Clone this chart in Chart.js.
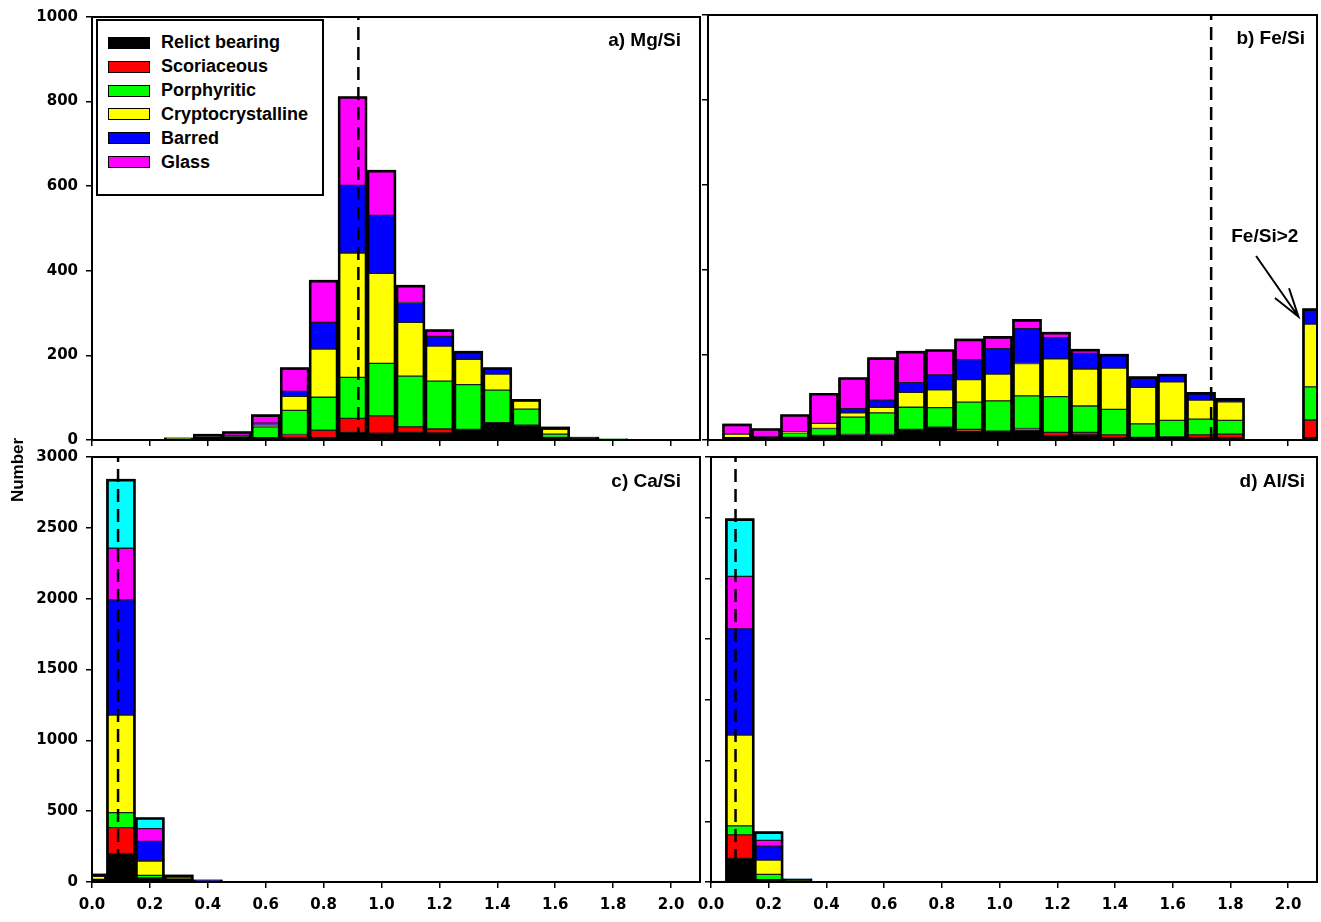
<!DOCTYPE html>
<html>
<head>
<meta charset="utf-8">
<script src="https://cdn.jsdelivr.net/npm/chart.js@4.4.1/dist/chart.umd.min.js"></script>
<style>
  html, body { margin: 0; padding: 0; background: #fff; }
  #wrap { position: relative; width: 1321px; height: 922px; overflow: hidden; background: #fff; }
  #wrap canvas { position: absolute; left: 0; top: 0; }
  #legend {
    position: absolute; left: 96px; top: 19px; width: 224px; height: 163px;
    border: 2px solid #000; background: #fff; z-index: 5;
    font: bold 18px "Liberation Sans", Arial, sans-serif; color: #000;
    padding-top: 10px; box-sizing: content-box;
  }
  #legend .row { height: 23.85px; display: flex; align-items: center; }
  #legend .sw { width: 42px; height: 12px; margin-left: 10px; margin-right: 11px; border: 1.5px solid #000; box-sizing: border-box; }
  #ytitle {
    position: absolute; left: -32px; top: 460px; width: 100px; height: 20px;
    transform: rotate(-90deg); text-align: center; line-height: 20px;
    font: bold 17px "Liberation Sans", Arial, sans-serif; color: #000; z-index: 5;
  }
</style>
</head>
<body>
<div id="wrap">
  <canvas id="cA" width="1321" height="922"></canvas>
  <canvas id="cB" width="1321" height="922"></canvas>
  <canvas id="cC" width="1321" height="922"></canvas>
  <canvas id="cD" width="1321" height="922"></canvas>
  <div id="legend"></div>
  <div id="ytitle">Number</div>
</div>
<script>
/* === CATEGORIES === */
const classNames = ['Relict bearing', 'Scoriaceous', 'Porphyritic', 'Cryptocrystalline', 'Barred', 'Glass', 'Other'];
const classColors = ['#000000', '#ff0000', '#00ff00', '#ffff00', '#0000ff', '#ff00ff', '#00ffff'];

/* === a) Mg/Si === */
const mgBins    = [0.3, 0.4, 0.5, 0.6, 0.7, 0.8, 0.9, 1.0, 1.1, 1.2, 1.3, 1.4, 1.5, 1.6, 1.7, 1.8, 1.9];
const mgRelict  = [2, 0, 0, 0, 5, 6, 20, 16, 18, 17, 25, 41, 35, 6, 4, 2, 1];
const mgScoria  = [0, 0, 0, 0, 8, 17, 31, 41, 13, 9, 0, 0, 0, 0, 0, 0, 0];
const mgPorph   = [1, 7, 9, 31, 57, 78, 97, 124, 120, 113, 106, 77, 38, 8, 3, 1, 0];
const mgCrypto  = [1, 1, 0, 4, 33, 114, 294, 213, 127, 83, 60, 38, 20, 11, 0, 0, 0];
const mgBarred  = [0, 1, 2, 5, 12, 63, 160, 137, 47, 23, 15, 11, 2, 1, 0, 0, 0];
const mgGlass   = [1, 5, 9, 20, 56, 100, 210, 107, 41, 16, 4, 4, 1, 5, 0, 0, 0];
const mgMedian  = 0.92;

/* === b) Fe/Si (last bin = Fe/Si>2) === */
const feBins    = [0.1, 0.2, 0.3, 0.4, 0.5, 0.6, 0.7, 0.8, 0.9, 1.0, 1.1, 1.2, 1.3, 1.4, 1.5, 1.6, 1.7, 1.8, 2.1];
const feRelict  = [2, 2, 6, 11, 13, 13, 25, 30, 21, 21, 23, 10, 12, 3, 2, 2, 2, 2, 0];
const feScoria  = [0, 0, 0, 0, 0, 0, 0, 0, 4, 0, 4, 8, 6, 9, 4, 5, 10, 12, 47];
const fePorph   = [0, 5, 11, 16, 41, 51, 52, 46, 64, 71, 77, 84, 62, 60, 32, 39, 37, 32, 78];
const feCrypto  = [12, 0, 2, 12, 10, 13, 35, 42, 53, 63, 76, 89, 87, 97, 86, 91, 45, 44, 148];
const feBarred  = [0, 0, 0, 0, 10, 17, 23, 35, 47, 60, 82, 50, 37, 30, 25, 18, 18, 8, 36];
const feGlass   = [24, 20, 41, 71, 73, 100, 74, 60, 49, 29, 22, 13, 10, 3, 0, 0, 0, 0, 0];
const feMedian  = 1.735;

/* === c) Ca/Si === */
const caBins    = [0.0, 0.1, 0.2, 0.3, 0.4];
const caRelict  = [18, 200, 28, 4, 5];
const caScoria  = [0, 184, 0, 2, 0];
const caPorph   = [0, 106, 19, 3, 0];
const caCrypto  = [22, 688, 101, 18, 3];
const caBarred  = [18, 813, 139, 10, 3];
const caGlass   = [0, 365, 90, 8, 2];
const caOther   = [0, 488, 78, 5, 2];
const caMedian  = 0.09;

/* === d) Al/Si === */
const alBins    = [0.0, 0.1, 0.2, 0.3];
const alRelict  = [5, 195, 16, 8];
const alScoria  = [0, 193, 0, 0];
const alPorph   = [0, 74, 47, 3];
const alCrypto  = [3, 748, 118, 6];
const alBarred  = [0, 875, 115, 6];
const alGlass   = [0, 432, 47, 2];
const alOther   = [0, 476, 72, 2];
const alMedian  = 0.085;

/* === annotation for b) === */
const feNote = { text: 'Fe/Si>2', tx: 1.92, ty: 478, x0: 1.89, y0: 433, x1: 2.036, y1: 290 };

const TICK_FONT = { family: '"DejaVu Sans", Verdana, sans-serif', size: 15, weight: 'bold' };
const LABEL_FONT = 'bold 19px "Liberation Sans", Arial, sans-serif';

/* === PLUGINS === */
const framePlugin = {
  id: 'frame',
  afterDraw(chart, args, opts) {
    const { ctx, chartArea: a } = chart;
    ctx.save();
    ctx.strokeStyle = '#000';
    ctx.lineWidth = 2;
    ctx.strokeRect(a.left, a.top, a.right - a.left, a.bottom - a.top);
    if (opts.label) {
      ctx.font = LABEL_FONT;
      ctx.fillStyle = '#000';
      ctx.textAlign = 'right';
      ctx.textBaseline = 'alphabetic';
      ctx.fillText(opts.label, a.right - opts.dx, a.top + opts.dy);
    }
    ctx.restore();
  }
};

const notePlugin = {
  id: 'note',
  afterDraw(chart, args, opts) {
    if (!opts.note) return;
    const n = opts.note;
    const xs = chart.scales.x, ys = chart.scales.y;
    const ctx = chart.ctx;
    const px0 = xs.getPixelForValue(n.x0), py0 = ys.getPixelForValue(n.y0);
    const px1 = xs.getPixelForValue(n.x1), py1 = ys.getPixelForValue(n.y1);
    ctx.save();
    ctx.font = LABEL_FONT;
    ctx.fillStyle = '#000';
    ctx.textAlign = 'center';
    ctx.textBaseline = 'middle';
    ctx.fillText(n.text, xs.getPixelForValue(n.tx), ys.getPixelForValue(n.ty));
    ctx.strokeStyle = '#000';
    ctx.lineWidth = 2;
    ctx.beginPath();
    ctx.moveTo(px0, py0);
    ctx.lineTo(px1, py1);
    const ang = Math.atan2(py0 - py1, px0 - px1);
    const len = 30, spread = 0.29;
    ctx.moveTo(px1 + len * Math.cos(ang - spread), py1 + len * Math.sin(ang - spread));
    ctx.lineTo(px1, py1);
    ctx.lineTo(px1 + len * Math.cos(ang + spread), py1 + len * Math.sin(ang + spread));
    ctx.stroke();
    ctx.restore();
  }
};

/* === CHART BUILDER === */
function buildDatasets(bins, series, median, yMax) {
  const sets = series.map((vals, i) => ({
    type: 'bar',
    label: classNames[i],
    data: bins.map((x, j) => ({ x: x, y: vals[j] })),
    backgroundColor: classColors[i],
    borderColor: '#1a1a1a',
    borderWidth: 1,
    borderSkipped: false,
    stack: 's',
    barPercentage: 1,
    categoryPercentage: 1,
    clip: 0,
    order: 2
  }));
  // outline round each stacked column
  sets.push({
    type: 'bar',
    label: 'total',
    data: bins.map((x, j) => ({ x: x, y: series.reduce((s, v) => s + v[j], 0) })),
    backgroundColor: 'rgba(0,0,0,0)',
    borderColor: '#000',
    borderWidth: 2,
    borderSkipped: false,
    stack: 'total',
    grouped: false,
    barPercentage: 1,
    categoryPercentage: 1,
    clip: 0,
    order: 1
  });
  sets.push({
    type: 'line',
    label: 'median',
    data: [{ x: median, y: 0 }, { x: median, y: yMax }],
    borderColor: '#000',
    borderWidth: 2.5,
    borderDash: [13, 7],
    pointRadius: 0,
    fill: false,
    stack: 'v',
    order: 0
  });
  return sets;
}

function makePanel(id, p) {
  const gridOpts = { display: true, drawOnChartArea: false, drawTicks: true, tickLength: 6, color: '#000', lineWidth: 1.5, offset: false };
  const borderOpts = { display: true, color: '#000', width: 2 };
  return new Chart(document.getElementById(id), {
    type: 'bar',
    data: { datasets: buildDatasets(p.bins, p.series, p.median, p.yMax) },
    options: {
      responsive: false,
      animation: false,
      events: [],
      layout: { padding: p.pad },
      scales: {
        x: {
          type: 'linear', min: 0, max: 2.1, offset: false,
          ticks: {
            display: p.showX, stepSize: 0.2, includeBounds: false, autoSkip: false, maxRotation: 0,
            padding: 8, color: '#000', font: TICK_FONT,
            callback: v => Number(v).toFixed(1)
          },
          grid: gridOpts, border: borderOpts,
          afterFit: s => { s.height = p.xH; }
        },
        y: {
          type: 'linear', min: 0, max: p.yMax, stacked: true,
          ticks: { display: p.showY, stepSize: p.yStep, padding: 8, color: '#000', font: TICK_FONT,
            callback: v => String(v) },
          grid: gridOpts, border: borderOpts,
          afterFit: s => { s.width = p.yW; }
        }
      },
      plugins: {
        legend: { display: false },
        tooltip: { enabled: false },
        frame: { label: p.label, dx: p.dx, dy: p.dy },
        note: { note: p.note || null }
      }
    },
    plugins: [framePlugin, notePlugin]
  });
}

const chartA = makePanel('cA', {
  bins: mgBins, series: [mgRelict, mgScoria, mgPorph, mgCrypto, mgBarred, mgGlass],
  median: mgMedian, yMax: 1000, yStep: 200, showX: false, showY: true,
  pad: { left: 0, top: 15, right: 621, bottom: 472 }, yW: 92, xH: 10,
  label: 'a) Mg/Si', dx: 19, dy: 29
});
const chartB = makePanel('cB', {
  bins: feBins, series: [feRelict, feScoria, fePorph, feCrypto, feBarred, feGlass],
  median: feMedian, yMax: 1000, yStep: 200, showX: false, showY: false,
  pad: { left: 698, top: 15, right: 4, bottom: 472 }, yW: 10, xH: 10,
  label: 'b) Fe/Si', dx: 12, dy: 29, note: feNote
});
const chartC = makePanel('cC', {
  bins: caBins, series: [caRelict, caScoria, caPorph, caCrypto, caBarred, caGlass, caOther],
  median: caMedian, yMax: 3000, yStep: 500, showX: true, showY: true,
  pad: { left: 0, top: 457, right: 621, bottom: 0 }, yW: 92, xH: 40,
  label: 'c) Ca/Si', dx: 19, dy: 30
});
const chartD = makePanel('cD', {
  bins: alBins, series: [alRelict, alScoria, alPorph, alCrypto, alBarred, alGlass, alOther],
  median: alMedian, yMax: 3500, yStep: 500, showX: true, showY: false,
  pad: { left: 701, top: 457, right: 4, bottom: 0 }, yW: 10, xH: 40,
  label: 'd) Al/Si', dx: 12, dy: 30
});

/* === HTML LEGEND from panel a === */
const legendBox = document.getElementById('legend');
chartA.data.datasets.filter(d => d.stack === 's').forEach(d => {
  const row = document.createElement('div');
  row.className = 'row';
  const sw = document.createElement('span');
  sw.className = 'sw';
  sw.style.background = d.backgroundColor;
  const txt = document.createElement('span');
  txt.textContent = d.label;
  row.appendChild(sw);
  row.appendChild(txt);
  legendBox.appendChild(row);
});
</script>
</body>
</html>
